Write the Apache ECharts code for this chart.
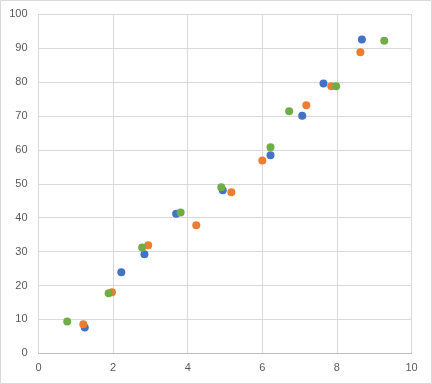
<!DOCTYPE html>
<html>
<head>
<meta charset="utf-8">
<script src="https://cdn.jsdelivr.net/npm/echarts@6/dist/echarts.min.js"></script>
<style>html,body{margin:0;padding:0;background:#fff}#c{width:432px;height:384px}</style>
</head>
<body>
<div id="c"></div>
<script>
var blueX = [1.24, 2.22, 2.84, 3.69, 4.94, 6.22, 7.07, 7.64, 8.67];
var blueY = [7.6, 23.9, 29.2, 41.2, 48.1, 58.4, 70.1, 79.6, 92.6];
var orangeX = [1.20, 1.97, 2.94, 4.23, 5.17, 6.00, 7.18, 7.85, 8.63];
var orangeY = [8.6, 18.0, 31.9, 37.8, 47.5, 56.9, 73.2, 78.8, 88.8];
var greenX = [0.77, 1.88, 2.78, 3.81, 4.90, 6.22, 6.72, 7.98, 9.27];
var greenY = [9.4, 17.7, 31.2, 41.5, 49.0, 60.8, 71.4, 78.8, 92.2];

function pairs(xs, ys) { return xs.map(function (x, i) { return [x, ys[i]]; }); }

var chart = echarts.init(document.getElementById('c'), null, {renderer: 'canvas'});
var labelStyle = {color: '#595959', fontFamily: 'Liberation Sans, Arial, sans-serif', fontSize: 11};
function mk(name, color, data) {
  return {
    name: name, type: 'scatter', data: data, symbol: 'circle', symbolSize: 8,
    itemStyle: {color: color, opacity: 1}, animation: false
  };
}
chart.setOption({
  animation: false,
  graphic: [{type: 'rect', shape: {x: 0.5, y: 0.5, width: 431, height: 383},
    style: {fill: 'none', stroke: '#D9D9D9', lineWidth: 1}, silent: true}],
  grid: {left: 38.5, right: 20.5, top: 14.3, bottom: 30.7, containLabel: false},
  xAxis: {
    type: 'value', min: 0, max: 10, interval: 2,
    axisLine: {show: true, lineStyle: {color: '#BFBFBF'}},
    axisTick: {show: false},
    splitLine: {show: true, lineStyle: {color: '#D9D9D9'}},
    axisLabel: Object.assign({margin: 9}, labelStyle)
  },
  yAxis: {
    type: 'value', min: 0, max: 100, interval: 10,
    axisLine: {show: false},
    axisTick: {show: false},
    splitLine: {show: true, lineStyle: {color: '#D9D9D9'}},
    axisLabel: Object.assign({margin: 11}, labelStyle)
  },
  series: [
    mk('Series1', '#4472C4', pairs(blueX, blueY)),
    mk('Series2', '#ED7D31', pairs(orangeX, orangeY)),
    mk('Series3', '#70AD47', pairs(greenX, greenY))
  ]
});
</script>
</body>
</html>
